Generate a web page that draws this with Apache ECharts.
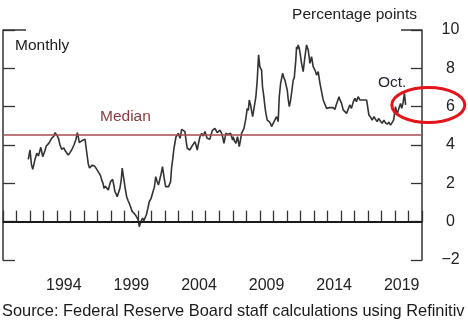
<!DOCTYPE html>
<html><head><meta charset="utf-8">
<script src="https://cdn.jsdelivr.net/npm/echarts@6/dist/echarts.min.js"></script>
<style>html,body{margin:0;padding:0;background:#fff}#c{width:468px;height:322px}</style>
</head><body><div id="c"></div>
<script>
// Decimal-year dates of the readings (monthly series)
const dates = [
1991.87,1992.00,1992.10,1992.20,1992.35,1992.50,1992.62,1992.80,1992.94,1993.10,
1993.20,1993.40,1993.60,1993.75,1993.85,1994.00,1994.10,1994.22,1994.34,1994.50,
1994.60,1994.72,1994.83,1994.95,1995.08,1995.25,1995.40,1995.50,1995.58,1995.64,
1995.75,1995.85,1996.07,1996.18,1996.30,1996.40,1996.48,1996.60,1996.68,1996.78,
1996.88,1997.00,1997.12,1997.22,1997.30,1997.40,1997.47,1997.57,1997.67,1997.79,
1997.88,1997.96,1998.11,1998.20,1998.28,1998.37,1998.45,1998.55,1998.65,1998.75,
1998.82,1998.90,1998.97,1999.05,1999.15,1999.25,1999.34,1999.45,1999.55,1999.65,
1999.80,1999.90,2000.00,2000.08,2000.20,2000.33,2000.42,2000.50,2000.60,2000.72,
2000.82,2000.95,2001.10,2001.20,2001.30,2001.40,2001.50,2001.60,2001.70,2001.80,
2001.92,2002.03,2002.15,2002.25,2002.40,2002.47,2002.55,2002.65,2002.80,2002.97,
2003.10,2003.22,2003.35,2003.46,2003.55,2003.63,2003.72,2003.83,2003.95,2004.08,
2004.20,2004.30,2004.37,2004.47,2004.57,2004.70,2004.82,2004.94,2005.10,2005.20,
2005.30,2005.40,2005.48,2005.60,2005.68,2005.85,2006.05,2006.15,2006.25,2006.35,
2006.49,2006.65,2006.84,2006.99,2007.03,2007.13,2007.23,2007.35,2007.48,2007.58,
2007.65,2007.83,2007.97,2008.07,2008.15,2008.22,2008.32,2008.40,2008.47,2008.57,
2008.71,2008.81,2008.91,2009.00,2009.07,2009.13,2009.20,2009.30,2009.38,2009.45,
2009.55,2009.62,2009.70,2009.80,2009.87,2009.99,2010.10,2010.24,2010.30,2010.36,
2010.44,2010.54,2010.62,2010.69,2010.78,2010.86,2010.95,2011.03,2011.10,2011.18,
2011.27,2011.35,2011.47,2011.55,2011.60,2011.66,2011.72,2011.78,2011.84,2011.92,
2012.00,2012.09,2012.21,2012.34,2012.46,2012.58,2012.65,2012.71,2012.83,2012.95,
2013.08,2013.20,2013.32,2013.45,2013.57,2013.69,2013.82,2013.94,2014.05,2014.15,
2014.26,2014.40,2014.50,2014.56,2014.65,2014.78,2014.86,2014.93,2015.05,2015.17,
2015.30,2015.42,2015.55,2015.66,2015.78,2015.92,2016.04,2016.15,2016.28,2016.40,
2016.52,2016.65,2016.78,2016.90,2017.00,2017.07,2017.20,2017.31,2017.45,2017.55,
2017.68,2017.80,2017.92,2018.05,2018.18,2018.30,2018.45,2018.55,2018.67,2018.78,
2018.90,2019.04,2019.15,2019.25,2019.41,2019.50,2019.60,2019.70,2019.79
];
// Percentage points
const values = [
3.25,3.74,3.00,2.73,3.20,3.57,3.43,3.88,3.39,3.70,
3.95,4.10,4.35,4.45,4.64,4.50,4.35,4.00,3.78,3.85,
3.70,3.60,3.48,3.60,3.74,4.00,4.30,4.64,4.40,4.12,
4.20,4.23,4.30,3.70,3.05,2.80,2.70,2.95,3.05,2.90,
2.79,2.70,2.52,2.40,2.18,2.00,1.74,1.85,1.91,1.65,
1.90,2.09,2.21,1.90,1.57,1.45,1.30,1.40,1.74,2.20,
2.79,2.40,2.09,1.70,1.30,1.10,0.96,0.75,0.55,0.60,
0.35,0.26,0.10,-0.26,0.00,0.18,0.05,0.00,0.35,0.70,
1.04,1.20,1.57,1.80,2.35,2.10,1.91,2.20,2.50,2.87,
2.30,1.83,1.90,1.83,2.09,2.79,3.22,3.83,4.43,4.61,
4.35,4.82,4.75,4.70,4.20,3.83,3.90,3.74,3.90,3.83,
4.17,3.95,3.74,4.10,4.43,4.61,4.47,4.70,4.35,4.40,
4.30,4.55,4.75,4.70,4.87,4.64,4.78,4.65,4.43,4.09,
4.61,4.55,4.61,4.26,4.43,4.20,4.09,4.43,3.91,4.30,
4.61,4.87,5.39,5.91,5.80,6.35,6.08,5.75,5.48,5.91,
6.52,7.39,8.70,8.09,8.15,7.91,7.04,6.52,6.00,5.65,
5.30,5.40,5.22,5.10,4.96,5.13,5.22,5.48,5.35,5.22,
6.52,7.22,7.50,7.74,7.50,7.39,7.10,6.87,6.40,6.00,
6.30,6.70,7.39,7.50,7.57,8.40,9.13,9.00,9.22,9.05,
8.70,8.26,7.83,8.61,9.22,8.96,8.60,8.26,8.61,8.09,
7.91,7.65,7.83,7.22,6.78,6.35,6.26,5.91,6.00,5.95,
5.86,5.96,5.90,5.86,6.09,6.00,6.52,6.35,6.17,5.83,
5.86,5.65,5.74,6.09,5.91,6.26,6.43,6.26,6.52,6.35,
6.43,6.35,6.26,6.35,5.90,5.57,5.45,5.30,5.48,5.35,
5.22,5.39,5.25,5.13,5.30,5.15,5.09,5.20,5.04,4.99,
5.30,6.00,5.57,5.83,6.17,5.91,6.20,6.70,6.09
];
const medianValue = 4.55;
const xLabelYears = [1994, 1999, 2004, 2009, 2014, 2019];
const xMin = 1990, xMax = 2021;
const yMin = -2, yMax = 10, yStep = 2;

const FONT = '"Liberation Sans", Arial, sans-serif';
const AX = '#333';
const chart = echarts.init(document.getElementById('c'), null, {renderer: 'canvas'});
const common = {type: 'value', min: yMin, max: yMax, interval: yStep, splitLine: {show: false}};
chart.setOption({
  animation: false,
  grid: {left: 3, right: 46, top: 30, bottom: 62, containLabel: false},
  xAxis: [
    {type: 'value', min: xMin, max: xMax, interval: 1, position: 'bottom',
     axisLine: {show: true, lineStyle: {color: AX, width: 1.5}},
     axisTick: {show: true, inside: true, length: 11, lineStyle: {color: AX, width: 1.3}},
     axisLabel: {show: false}, splitLine: {show: false}},
    {type: 'value', min: xMin, max: xMax, position: 'bottom',
     axisLine: {show: false}, axisTick: {show: false}, splitLine: {show: false},
     axisLabel: {show: true, customValues: xLabelYears.map(y => y + 0.5),
       formatter: v => String(Math.floor(v)), fontSize: 16, color: '#222',
       fontFamily: FONT, margin: 17.5}}
  ],
  yAxis: [
    Object.assign({}, common, {position: 'left',
      axisLine: {show: true, lineStyle: {color: AX, width: 1.5}},
      axisTick: {show: true, inside: true, length: 12, lineStyle: {color: AX, width: 1.3}},
      axisLabel: {show: false}}),
    Object.assign({}, common, {position: 'right',
      axisLine: {show: true, lineStyle: {color: AX, width: 1.5}},
      axisTick: {show: true, inside: true, length: 11, lineStyle: {color: AX, width: 1.3}},
      axisLabel: {show: true, align: 'center', margin: 28.5, fontSize: 16, color: '#222', fontFamily: FONT,
        formatter: v => (v < 0 ? '\u2212' + Math.abs(v) : String(v))}}),
    Object.assign({}, common, {position: 'left',
      axisLine: {show: false},
      axisTick: {show: true, inside: true, length: 23, customValues: [yMax], lineStyle: {color: AX, width: 1.5}},
      axisLabel: {show: false}}),
    Object.assign({}, common, {position: 'right',
      axisLine: {show: false},
      axisTick: {show: true, inside: true, length: 21, customValues: [yMax], lineStyle: {color: AX, width: 1.5}},
      axisLabel: {show: false}})
  ],
  series: [{
    type: 'line', xAxisIndex: 0, yAxisIndex: 0,
    data: dates.map((d, i) => [d, values[i]]),
    showSymbol: false, symbol: 'none',
    lineStyle: {color: '#333', width: 1.6},
    markLine: {
      symbol: 'none', silent: true, label: {show: false},
      data: [
        {yAxis: 0, lineStyle: {color: '#1a1a1a', width: 2, type: 'solid'}},
        {yAxis: medianValue, lineStyle: {color: '#a84a50', width: 1.5, type: 'solid'}}
      ]
    }
  }],
  graphic: [
    {type: 'text', x: 417, y: 7.2, style: {text: 'Percentage points', font: '15.5px ' + FONT, fill: '#222', textAlign: 'right', align: 'right', textVerticalAlign: 'top', verticalAlign: 'top'}},
    {type: 'text', x: 15, y: 37.3, style: {text: 'Monthly', font: '15.5px ' + FONT, fill: '#1a1a1a', textVerticalAlign: 'top', verticalAlign: 'top'}},
    {type: 'text', x: 100, y: 108.8, style: {text: 'Median', font: '15.5px ' + FONT, fill: '#8b3a3f', textVerticalAlign: 'top', verticalAlign: 'top'}},
    {type: 'text', x: 378, y: 74.8, style: {text: 'Oct.', font: '15.5px ' + FONT, fill: '#223', textVerticalAlign: 'top', verticalAlign: 'top'}},
    {type: 'text', x: 2, y: 303.5, style: {text: 'Source: Federal Reserve Board staff calculations using Refinitiv', font: '16.4px ' + FONT, fill: '#1a1a1a', textVerticalAlign: 'top', verticalAlign: 'top'}},
    {type: 'ellipse', z: 100, shape: {cx: 428.3, cy: 105, rx: 36.5, ry: 17.5}, style: {fill: 'none', stroke: '#e5141a', lineWidth: 3}}
  ]
});
</script></body></html>
